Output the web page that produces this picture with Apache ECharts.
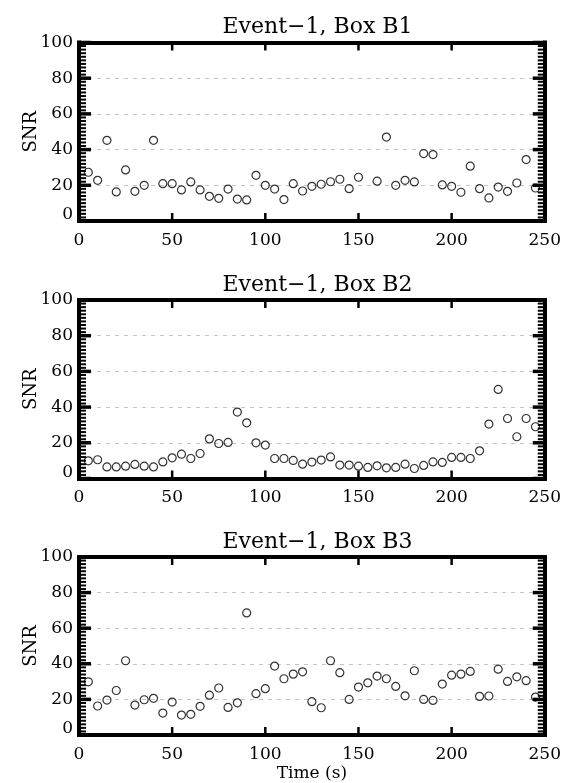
<!DOCTYPE html>
<html>
<head>
<meta charset="utf-8">
<script src="https://cdn.jsdelivr.net/npm/echarts@6.0.0/dist/echarts.min.js"></script>
<style>
html,body{margin:0;padding:0;background:#fff;}
#c{width:564px;height:783px;}
</style>
</head>
<body>
<div id="c"></div>
<script>
const times = [5,10,15,20,25,30,35,40,45,50,55,60,65,70,75,80,85,90,95,100,105,110,115,120,125,130,135,140,145,150,155,160,165,170,175,180,185,190,195,200,205,210,215,220,225,230,235,240,245];
const snrB1 = [27.3,22.8,45.2,16.3,28.6,16.6,20,45.2,20.9,20.9,17.4,21.9,17.4,13.8,12.7,17.9,12.3,11.8,25.6,20,17.9,12,20.9,16.8,19.4,20.6,22,23.4,18.1,24.5,null,22.3,47,20,22.8,21.9,37.8,37.2,20.2,19.4,16.1,30.7,18.1,12.9,19,16.6,21.3,34.4,18.5];
const snrB2 = [9.9,10.5,6.5,6.5,6.9,7.9,6.9,6.5,9.3,11.6,13.6,11.2,14,22.2,19.6,20.2,37.2,31.2,20,18.7,11.2,11.2,10.1,8,9.2,10.3,12.1,7.5,7.5,6.9,6.2,7.1,6,6.2,8,5.6,7.3,9.3,9,11.8,11.8,11.2,15.5,30.5,49.9,33.6,23.4,33.6,29];
const snrB3 = [29.9,16.3,19.6,25,41.7,16.8,19.8,20.6,12.3,18.5,11.2,11.6,16.1,22.4,26.4,15.5,18.1,68.6,23.2,26,38.7,31.6,34.2,35.5,18.7,15.3,41.7,35,20,26.9,29.3,33.1,31.6,27.3,22,36.1,20,19.4,28.6,33.6,34.2,35.7,21.7,21.9,37,30.1,32.7,30.5,21.3];
const panelTitles = ['Event\u22121, Box B1','Event\u22121, Box B2','Event\u22121, Box B3'];
const xTickVals = [0,50,100,150,200,250];
const yTickVals = [0,20,40,60,80,100];

const FONT = 'DejaVu Serif';
const panels = [snrB1, snrB2, snrB3];
const gridTops = [42.5, 300, 557];
const gridLeft = 79, gridW = 467, gridH = 178.5;
const xMin = xTickVals[0], xMax = xTickVals[xTickVals.length-1];
const yMin = yTickVals[0], yMax = yTickVals[yTickVals.length-1];
const xInt = xTickVals[1]-xTickVals[0], yInt = yTickVals[1]-yTickVals[0];
const MINOR_DIV = 10;

const yMinorVals = [];
for (let i = 0; i < yTickVals.length-1; i++) {
  const a = yTickVals[i], step = (yTickVals[i+1]-a)/MINOR_DIV;
  for (let k = 1; k < MINOR_DIV; k++) yMinorVals.push(a + k*step);
}

const chart = echarts.init(document.getElementById('c'), null, {renderer:'canvas'});
const grid = [], xAxis = [], yAxis = [], series = [], title = [];
function mkLine(){ return {show:true, onZero:false, lineStyle:{color:'#000', width:4, cap:'square'}}; }
function tickSeries(g, data, size, offset){
  return {
    type:'scatter', xAxisIndex:g*2, yAxisIndex:g*2, data, symbol:'rect',
    symbolSize:size, symbolOffset:offset, clip:false, silent:true, z:4, animation:false,
    itemStyle:{color:'#000', borderWidth:0, opacity:1}
  };
}

panels.forEach((arr, g) => {
  grid.push({left:gridLeft, top:gridTops[g], width:gridW, height:gridH, containLabel:false});
  title.push({
    text: panelTitles[g], left: gridLeft + gridW/2, top: gridTops[g] - 31, textAlign:'center',
    textStyle:{fontFamily:FONT, fontSize:22, fontWeight:'normal', color:'#000'}
  });
  const xb = {
    type:'value', gridIndex:g, position:'bottom', min:xMin, max:xMax, interval:xInt,
    axisLine:mkLine(), axisTick:{show:false},
    axisLabel:{show:true, fontFamily:FONT, fontSize:17, color:'#000', margin:11},
    splitLine:{show:false}
  };
  if (g === 2) {
    xb.name = 'Time (s)'; xb.nameLocation = 'middle'; xb.nameGap = 30;
    xb.nameTextStyle = {fontFamily:FONT, fontSize:17, color:'#000'};
  }
  xAxis.push(xb);
  xAxis.push({
    type:'value', gridIndex:g, position:'top', min:xMin, max:xMax, interval:xInt,
    axisLine:mkLine(), axisTick:{show:false}, axisLabel:{show:false}, splitLine:{show:false}
  });
  yAxis.push({
    type:'value', gridIndex:g, position:'left', min:yMin, max:yMax, interval:yInt,
    axisLine:mkLine(), axisTick:{show:false},
    axisLabel:{show:true, fontFamily:FONT, fontSize:17, color:'#000', margin:6,
      formatter: v => v === yMin ? '{z|' + v + '}' : String(v),
      rich:{z:{fontFamily:FONT, fontSize:17, color:'#000', padding:[0,0,12,0]}}},
    splitLine:{show:true, showMinLine:false, showMaxLine:false, lineStyle:{color:'#c4c4c4', width:1, type:[4,5]}},
    name:'SNR', nameLocation:'middle', nameGap:39, nameMoveOverlap:false,
    nameTextStyle:{fontFamily:FONT, fontSize:18, color:'#000'}
  });
  yAxis.push({
    type:'value', gridIndex:g, position:'right', min:yMin, max:yMax, interval:yInt,
    axisLine:mkLine(), axisTick:{show:false}, axisLabel:{show:false}, splitLine:{show:false}
  });
  series.push({
    type:'scatter', xAxisIndex:g*2, yAxisIndex:g*2,
    data: times.map((t,i) => [t, arr[i]]).filter(d => d[1] !== null),
    symbol:'circle', symbolSize:8,
    itemStyle:{color:'rgba(0,0,0,0)', borderColor:'#000', borderWidth:1.2},
    silent:true, animation:false, z:3
  });
  // axis tick marks, placed through the axes' own scales
  series.push(tickSeries(g, xTickVals.map(v => [v, yMin]), [2.5, 8], [0, -4]));
  series.push(tickSeries(g, xTickVals.map(v => [v, yMax]), [2.5, 8], [0, 4]));
  series.push(tickSeries(g, yTickVals.map(v => [xMin, v]), [12, 3.5], [6, 0]));
  series.push(tickSeries(g, yTickVals.map(v => [xMax, v]), [12, 3.5], [-6, 0]));
  series.push(tickSeries(g, yMinorVals.map(v => [xMin, v]), [7, 2], [3.5, 0]));
  series.push(tickSeries(g, yMinorVals.map(v => [xMax, v]), [7, 2], [-3.5, 0]));
});

chart.setOption({
  backgroundColor:'#fff', animation:false,
  title, grid, xAxis, yAxis, series
});
</script>
</body>
</html>
